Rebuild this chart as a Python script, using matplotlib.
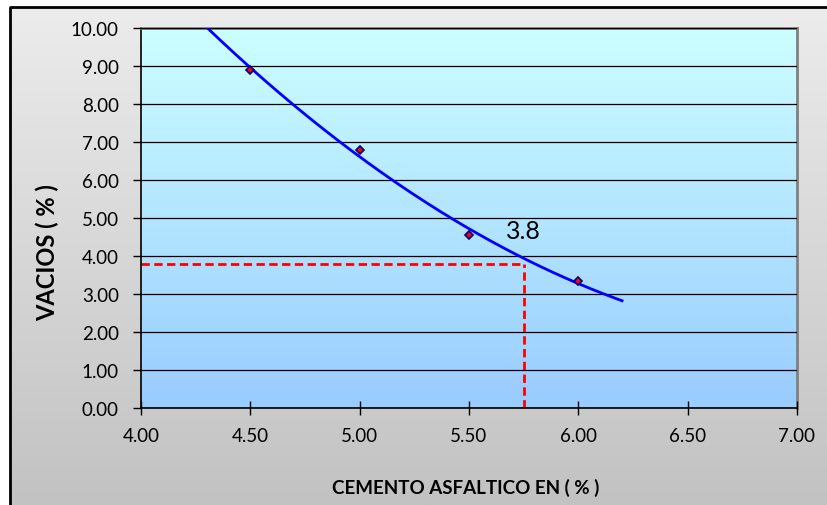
import numpy as np
import matplotlib
matplotlib.use("Agg")
import matplotlib.pyplot as plt

plt.rcParams['font.family'] = ['Lato', 'DejaVu Sans']

# Lab data: asphalt cement content vs. air voids
asfalto = [4.5, 5.0, 5.5, 6.0]
vacios = [8.90, 6.78, 4.55, 3.33]
# design value read from the trend
opt_asfalto = 5.75
opt_vacios = 3.8

x_ticks = [4.0, 4.5, 5.0, 5.5, 6.0, 6.5, 7.0]
y_ticks = [0, 1, 2, 3, 4, 5, 6, 7, 8, 9, 10]

W, H = 827, 506
fig = plt.figure(figsize=(W / 100, H / 100), dpi=100)
fig.patch.set_facecolor('white')

# chart area background (grey gradient + frame)
bg = fig.add_axes([0, 0, 1, 1], zorder=-10)
bg.set_xlim(0, W)
bg.set_ylim(H, 0)
bg.axis('off')
grad = np.linspace(0, 1, 256).reshape(-1, 1)
grey = matplotlib.colors.LinearSegmentedColormap.from_list('g', ['#ececec', '#c2c2c2'])
bg.imshow(grad, cmap=grey, extent=(10, W, H, 8), aspect='auto')
bg.plot([9.5, 9.5, W], [H, 7.5, 7.5], color='black', lw=2)

# plot area
ax = fig.add_axes([141 / W, (H - 409) / H, 656 / W, 380 / H])
blue = matplotlib.colors.LinearSegmentedColormap.from_list('b', ['#ccffff', '#99ccff'])
ax.imshow(grad, cmap=blue, extent=(4, 7, 0, 10), aspect='auto', zorder=0)

ax.set_xlim(4, 7)
ax.set_ylim(0, 10)
ax.set_xticks(x_ticks)
ax.set_yticks(y_ticks)
ax.set_xticklabels(['%.2f' % v for v in x_ticks], fontsize=13.5)
ax.set_yticklabels(['%.2f' % v for v in y_ticks], fontsize=13.5)
ax.tick_params(axis='x', direction='inout', length=10, width=1, pad=9)
ax.tick_params(axis='y', direction='out', length=6, width=1, pad=10)
ax.yaxis.grid(True, color='black', lw=0.9, zorder=1)
ax.set_axisbelow(False)
for s in ['top', 'right']:
    ax.spines[s].set_color('#808080')
    ax.spines[s].set_linewidth(2)
for s in ['left', 'bottom']:
    ax.spines[s].set_color('black')
    ax.spines[s].set_linewidth(1.2)

# polynomial (2nd order) trendline
coef = np.polyfit(asfalto, vacios, 2)
xt = np.linspace(4.3, 6.2, 200)
ax.plot(xt, np.polyval(coef, xt), color='#0000ff', lw=2, zorder=3, clip_on=True)

ax.plot(asfalto, vacios, linestyle='none', marker='D', markersize=4.5,
        markerfacecolor='red', markeredgecolor='#000080', markeredgewidth=1.2, zorder=4)

# design lines
ax.plot([4, opt_asfalto], [opt_vacios, opt_vacios], color='red', lw=2,
        linestyle=(0, (3, 1.6)), zorder=2)
ax.plot([opt_asfalto, opt_asfalto], [0, opt_vacios], color='red', lw=2,
        linestyle=(0, (3, 1.6)), zorder=2)
ax.text(opt_asfalto, 4.68, '%.1f' % opt_vacios, fontsize=18, ha='center', va='center', zorder=5)

fig.text(47 / W, 1 - 253 / H, 'VACIOS ( % )', rotation=90, fontsize=17,
         fontweight='bold', ha='center', va='center')
fig.text(466 / W, 1 - 488 / H, 'CEMENTO ASFALTICO EN ( % )', fontsize=13.5,
         fontweight='bold', ha='center', va='center')

fig.savefig('out.png', dpi=100)
